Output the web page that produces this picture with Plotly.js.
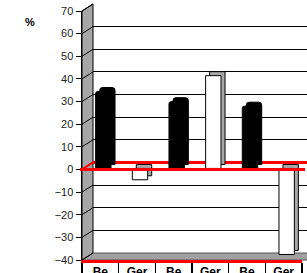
<!DOCTYPE html>
<html><head><meta charset="utf-8">
<script src="https://cdn.plot.ly/plotly-3.0.1.min.js"></script>
<style>html,body{margin:0;padding:0;background:#fff;overflow:hidden}</style>
</head><body><div id="chart" style="width:307px;height:273px"></div>
<script>
// ---- data ----
const categories = ["Be", "Ger", "Be", "Ger", "Be", "Ger"];
const values = [34, -5, 29.5, 41, 27.5, -38];
const yTicks = [-40, -30, -20, -10, 0, 10, 20, 30, 40, 50, 60, 70];
const yUnit = "%";

// ---- geometry (pixels) ----
const W = 307, H = 273;
const XL = 82, XR = 302, YT = 11, YB = 260;
const catW = (XR - XL) / categories.length;
const fx = p => p / W;
const fy = p => (H - p) / H;
function plane(dx, dy) {
  const x0 = XL + dx, x1 = Math.min(XR + dx, W);
  return {
    xdom: [fx(x0), fx(x1)],
    xrange: [-0.5, -0.5 + (x1 - x0) / catW],
    ydom: [fy(YB + dy), fy(YT + dy)]
  };
}
const back = plane(11, -7), depth = plane(7, -5), bars = plane(3, -1), front = plane(0, 0);
const yRange = [yTicks[0], yTicks[yTicks.length - 1]];
const yPix = (v, dy) => YB + dy - (v - yRange[0]) / (yRange[1] - yRange[0]) * (YB - YT);

const idx = categories.map((c, i) => i);
const beIdx = idx.filter(i => categories[i] === "Be");
const gerIdx = idx.filter(i => categories[i] === "Ger");
const BW = 0.42;

const traces = [
  {type: "scatter", x: [], y: [], xaxis: "x", yaxis: "y", showlegend: false},
  {type: "bar", name: "Be depth", x: beIdx, y: beIdx.map(i => values[i]), xaxis: "x2", yaxis: "y2",
   width: BW, marker: {color: "#000", line: {color: "#000", width: 1}, cornerradius: 3}, showlegend: false},
  {type: "bar", name: "Ger depth", x: gerIdx, y: gerIdx.map(i => values[i]), xaxis: "x2", yaxis: "y2",
   width: BW, marker: {color: "#a8a8a8", line: {color: "#000", width: 1}}, showlegend: false},
  {type: "bar", name: "Be", x: beIdx, y: beIdx.map(i => values[i]), xaxis: "x3", yaxis: "y3",
   width: BW, marker: {color: "#000", line: {color: "#000", width: 1}, cornerradius: 2}, showlegend: false},
  {type: "bar", name: "Ger", x: gerIdx, y: gerIdx.map(i => values[i]), xaxis: "x3", yaxis: "y3",
   width: BW, marker: {color: "#fff", line: {color: "#000", width: 1}}, showlegend: false},
  {type: "scatter", x: [], y: [], xaxis: "x4", yaxis: "y4", showlegend: false}
];

function hiddenX(p, anchor) {
  return {domain: p.xdom, range: p.xrange, anchor: anchor, showgrid: false, zeroline: false,
          showline: false, showticklabels: false, ticks: "", fixedrange: true};
}
function hiddenY(p, anchor) {
  return {domain: p.ydom, range: yRange, anchor: anchor, showgrid: false, zeroline: false,
          showline: false, showticklabels: false, ticks: "", fixedrange: true};
}

const shapes = [];
// side wall
shapes.push({type: "path", xref: "paper", yref: "paper", layer: "below",
  path: `M${fx(XL)},${fy(YT)} L${fx(XL+11)},${fy(YT-7)} L${fx(XL+11)},${fy(YB-7)} L${fx(XL)},${fy(YB)} Z`,
  fillcolor: "#a6a6a6", line: {color: "#000", width: 1}});
// floor
shapes.push({type: "path", xref: "paper", yref: "paper", layer: "below",
  path: `M${fx(XL)},${fy(YB)} L${fx(XL+11)},${fy(YB-7)} L${fx(W+5)},${fy(YB-7)} L${fx(W+5)},${fy(YB)} Z`,
  fillcolor: "#a0a0a0", line: {color: "#555", width: 1}});
// side wall grid diagonals
yTicks.forEach(v => {
  shapes.push({type: "line", xref: "paper", yref: "paper", layer: "below",
    x0: fx(XL), y0: fy(yPix(v, 0)), x1: fx(XL + 11), y1: fy(yPix(v, -7)),
    line: {color: v === 0 ? "#ff0000" : "#000", width: v === 0 ? 2 : 1}});
});
// front red zero line
shapes.push({type: "line", xref: "paper", yref: "y4", layer: "above",
  x0: fx(80), x1: fx(305), y0: 0, y1: 0, line: {color: "#ff0000", width: 3}});

const layout = {
  width: W, height: H, margin: {l: 0, r: 0, t: 0, b: 0},
  paper_bgcolor: "#fff", plot_bgcolor: "rgba(0,0,0,0)",
  barmode: "overlay", showlegend: false,
  font: {family: "Liberation Sans, Arial, sans-serif", color: "#000"},
  xaxis: hiddenX(back, "y"),
  yaxis: Object.assign(hiddenY(back, "x"), {showgrid: true, gridcolor: "#000", gridwidth: 1,
    tickmode: "array", tickvals: yTicks, zeroline: true, zerolinecolor: "#ff0000", zerolinewidth: 3}),
  xaxis2: hiddenX(depth, "y2"),
  yaxis2: hiddenY(depth, "x2"),
  xaxis3: hiddenX(bars, "y3"),
  yaxis3: hiddenY(bars, "x3"),
  xaxis4: {domain: front.xdom, range: front.xrange, anchor: "y4", showgrid: false, zeroline: false,
    showline: true, linecolor: "#ff0000", linewidth: 3,
    tickmode: "array", tickvals: idx, ticktext: categories, ticks: "", ticklabelstandoff: -1,
    tickfont: {size: 12, color: "#000", weight: "bold", family: "Liberation Sans, Arial, sans-serif"},
    minor: {tickmode: "array", tickvals: idx.concat([categories.length]).map(i => i - 0.5),
      ticks: "outside", ticklen: 14, tickwidth: 1.5, tickcolor: "#000", showgrid: false},
    fixedrange: true},
  yaxis4: {domain: front.ydom, range: yRange, anchor: "x4", showgrid: false, zeroline: false,
    showline: true, linecolor: "#000", linewidth: 1.5,
    tickmode: "array", tickvals: yTicks, ticks: "outside", ticklen: 5, tickwidth: 1, tickcolor: "#000",
    tickfont: {size: 11, color: "#222", family: "Liberation Sans, Arial, sans-serif"}, fixedrange: true},
  shapes: shapes,
  annotations: [{text: "<b>" + yUnit + "</b>", xref: "paper", yref: "paper", x: fx(23), y: fy(14),
    showarrow: false, font: {size: 11, color: "#000"}}]
};

Plotly.newPlot("chart", traces, layout, {staticPlot: true, displayModeBar: false});
</script>
</body></html>
